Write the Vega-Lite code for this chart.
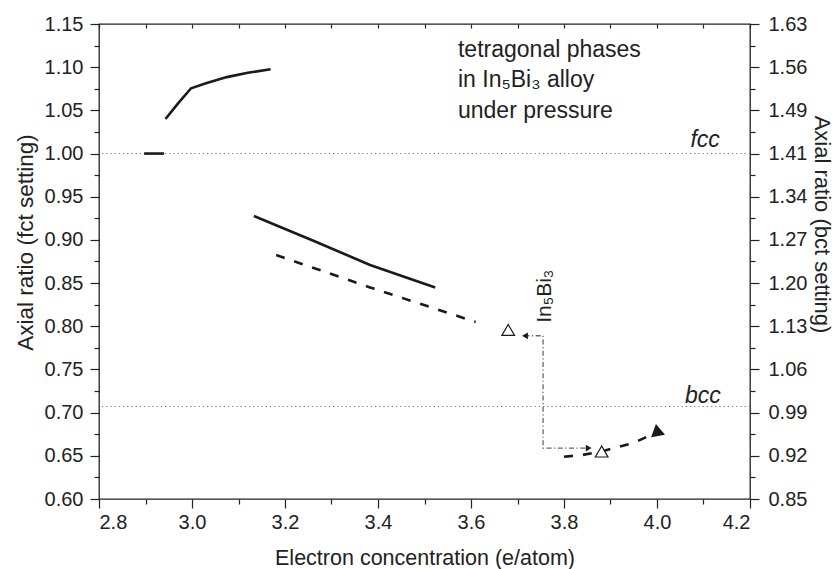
{
  "$schema": "https://vega.github.io/schema/vega-lite/v6.json",
  "autosize": {"type": "none"},
  "padding": {"left": 99, "top": 24, "right": 86, "bottom": 70},
  "width": 651,
  "height": 475,
  "background": "white",
  "config": {
    "font": "Liberation Sans",
    "view": {"stroke": "#222", "strokeWidth": 1.3},
    "axis": {
      "domain": false,
      "grid": false,
      "tickColor": "#222",
      "tickWidth": 1.2,
      "labelColor": "#222",
      "labelFontSize": 20,
      "labelFont": "Liberation Sans",
      "titleFont": "Liberation Sans",
      "titleFontSize": 21.5,
      "titleFontWeight": "normal",
      "titleColor": "#222"
    }
  },
  "datasets": {
    "lines": [
      {"series": "fccshort", "o": 1, "x": 2.897, "y": 1.0},
      {"series": "fccshort", "o": 2, "x": 2.94, "y": 1.0},
      {"series": "upper", "o": 1, "x": 2.943, "y": 1.04},
      {"series": "upper", "o": 2, "x": 2.97, "y": 1.058},
      {"series": "upper", "o": 3, "x": 2.998, "y": 1.0756},
      {"series": "upper", "o": 4, "x": 3.03, "y": 1.0815},
      {"series": "upper", "o": 5, "x": 3.075, "y": 1.0885},
      {"series": "upper", "o": 6, "x": 3.12, "y": 1.0935},
      {"series": "upper", "o": 7, "x": 3.169, "y": 1.0976},
      {"series": "solid", "o": 1, "x": 3.133, "y": 0.9277},
      {"series": "solid", "o": 2, "x": 3.261, "y": 0.899},
      {"series": "solid", "o": 3, "x": 3.383, "y": 0.871},
      {"series": "solid", "o": 4, "x": 3.523, "y": 0.845}
    ],
    "dashed": [
      {"series": "dashed", "o": 1, "x": 3.181, "y": 0.8825},
      {"series": "dashed", "o": 2, "x": 3.383, "y": 0.845},
      {"series": "dashed", "o": 3, "x": 3.61, "y": 0.805},
      {"series": "lowdash", "o": 1, "x": 3.8, "y": 0.649},
      {"series": "lowdash", "o": 2, "x": 3.84, "y": 0.651},
      {"series": "lowdash", "o": 3, "x": 3.88, "y": 0.655},
      {"series": "lowdash", "o": 4, "x": 3.95, "y": 0.665},
      {"series": "lowdash", "o": 5, "x": 3.99, "y": 0.675}
    ],
    "guide": [
      {"o": 1, "x": 3.715, "y": 0.789},
      {"o": 2, "x": 3.755, "y": 0.789},
      {"o": 3, "x": 3.755, "y": 0.659},
      {"o": 4, "x": 3.855, "y": 0.659}
    ],
    "arrows": [
      {"kind": "left", "x": 3.716, "y": 0.789},
      {"kind": "right", "x": 3.853, "y": 0.659}
    ],
    "openpts": [
      {"x": 3.68, "y": 0.7957},
      {"x": 3.881, "y": 0.655}
    ],
    "filledpts": [
      {"x": 4.0, "y": 0.68}
    ],
    "refs": [
      {"name": "fcc", "y": 1.0},
      {"name": "bcc", "y": 0.7071}
    ],
    "reflabels": [
      {"label": "fcc", "x": 4.135, "y": 1.0076},
      {"label": "bcc", "x": 4.137, "y": 0.711}
    ],
    "notes": [
      {"label": "tetragonal phases", "x": 3.572, "y": 1.1118},
      {"label": "in In₅Bi₃ alloy", "x": 3.572, "y": 1.077},
      {"label": "under pressure", "x": 3.572, "y": 1.041}
    ],
    "vlabel": [
      {"label": "In₅Bi₃", "x": 3.76, "y": 0.804}
    ]
  },
  "layer": [
    {
      "data": {"name": "refs"},
      "mark": {"type": "rule", "stroke": "#777", "strokeWidth": 1.1, "strokeDash": [1.2, 3]},
      "encoding": {
        "y": {
          "field": "y", "type": "quantitative",
          "scale": {"domain": [0.6, 1.15], "zero": false, "nice": false},
          "axis": {
            "orient": "right",
            "title": "Axial ratio (bct setting)",
            "titleFontSize": 22,
            "titlePadding": 3,
            "titleY": 200,
            "values": [0.6, 0.625, 0.65, 0.675, 0.7, 0.725, 0.75, 0.775, 0.8, 0.825, 0.85, 0.875, 0.9, 0.925, 0.95, 0.975, 1.0, 1.025, 1.05, 1.075, 1.1, 1.125, 1.15],
            "labelExpr": "round(datum.value*40) % 2 == 0 ? (round(datum.value*20) == 21 ? '1.49' : format(datum.value*1.41421356, '.2f')) : ''",
            "tickSize": {"condition": {"test": "round(datum.value*40) % 2 == 0", "value": 9}, "value": 5},
            "labelPadding": 9
          }
        }
      }
    },
    {
      "encoding": {
        "x": {
          "field": "x", "type": "quantitative",
          "scale": {"domain": [2.8, 4.2], "zero": false, "nice": false},
          "axis": {
            "orient": "bottom",
            "title": "Electron concentration (e/atom)",
            "titlePadding": 15,
            "values": [2.8, 2.9, 3.0, 3.1, 3.2, 3.3, 3.4, 3.5, 3.6, 3.7, 3.8, 3.9, 4.0, 4.1, 4.2],
            "labelExpr": "round(datum.value*10) % 2 == 0 ? format(datum.value, '.1f') : ''",
            "tickSize": {"condition": {"test": "round(datum.value*10) % 2 == 0", "value": 9}, "value": 5},
            "labelPadding": 4
          }
        },
        "y": {
          "field": "y", "type": "quantitative",
          "scale": {"domain": [0.6, 1.15], "zero": false, "nice": false},
          "axis": {
            "orient": "left",
            "title": "Axial ratio (fct setting)",
            "titleFontSize": 22.5,
            "titlePadding": 7,
            "titleY": 218,
            "values": [0.6, 0.625, 0.65, 0.675, 0.7, 0.725, 0.75, 0.775, 0.8, 0.825, 0.85, 0.875, 0.9, 0.925, 0.95, 0.975, 1.0, 1.025, 1.05, 1.075, 1.1, 1.125, 1.15],
            "labelExpr": "round(datum.value*40) % 2 == 0 ? format(datum.value, '.2f') : ''",
            "tickSize": {"condition": {"test": "round(datum.value*40) % 2 == 0", "value": 9}, "value": 5},
            "labelPadding": 7
          }
        }
      },
      "layer": [
        {
          "data": {"name": "guide"},
          "mark": {"type": "line", "stroke": "#666", "strokeWidth": 1.3, "strokeDash": [5, 2.5, 1.2, 2.5]},
          "encoding": {"order": {"field": "o", "type": "quantitative"}}
        },
        {
          "data": {"name": "lines"},
          "mark": {"type": "line", "stroke": "#1a1a1a", "strokeWidth": 2.6},
          "encoding": {
            "detail": {"field": "series"},
            "order": {"field": "o", "type": "quantitative"}
          }
        },
        {
          "data": {"name": "dashed"},
          "mark": {"type": "line", "stroke": "#1a1a1a", "strokeWidth": 2.6, "strokeDash": [9, 10]},
          "encoding": {
            "detail": {"field": "series"},
            "order": {"field": "o", "type": "quantitative"}
          }
        },
        {
          "data": {"name": "arrows"},
          "mark": {"type": "point", "filled": true, "color": "#1a1a1a", "size": 45, "opacity": 1},
          "encoding": {
            "shape": {
              "field": "kind", "type": "nominal", "legend": null,
              "scale": {"domain": ["left", "right"], "range": ["triangle-left", "triangle-right"]}
            }
          }
        },
        {
          "data": {"name": "openpts"},
          "mark": {"type": "point", "shape": "triangle-up", "filled": true, "fill": "white", "stroke": "#1a1a1a", "strokeWidth": 1.2, "size": 160, "opacity": 1}
        },
        {
          "data": {"name": "filledpts"},
          "mark": {"type": "point", "shape": "triangle-up", "filled": true, "color": "#1a1a1a", "size": 200, "angle": -10, "opacity": 1}
        },
        {
          "data": {"name": "notes"},
          "mark": {"type": "text", "align": "left", "baseline": "alphabetic", "fontSize": 23, "color": "#222"},
          "encoding": {"text": {"field": "label"}}
        },
        {
          "data": {"name": "vlabel"},
          "mark": {"type": "text", "align": "left", "baseline": "middle", "angle": 270, "fontSize": 21, "color": "#222"},
          "encoding": {"text": {"field": "label"}}
        }
      ]
    },
    {
      "data": {"name": "reflabels"},
      "mark": {"type": "text", "align": "right", "baseline": "alphabetic", "fontSize": 23, "fontStyle": "italic", "color": "#222"},
      "encoding": {
        "x": {
          "field": "x", "type": "quantitative",
          "scale": {"domain": [2.8, 4.2], "zero": false, "nice": false},
          "axis": {
            "orient": "top",
            "title": null,
            "labels": false,
            "values": [2.8, 2.9, 3.0, 3.1, 3.2, 3.3, 3.4, 3.5, 3.6, 3.7, 3.8, 3.9, 4.0, 4.1, 4.2],
            "tickSize": -4
          }
        },
        "y": {
          "field": "y", "type": "quantitative",
          "scale": {"domain": [0.6, 1.15], "zero": false, "nice": false},
          "axis": null
        },
        "text": {"field": "label"}
      }
    }
  ],
  "resolve": {"scale": {"x": "independent", "y": "independent"}}
}
